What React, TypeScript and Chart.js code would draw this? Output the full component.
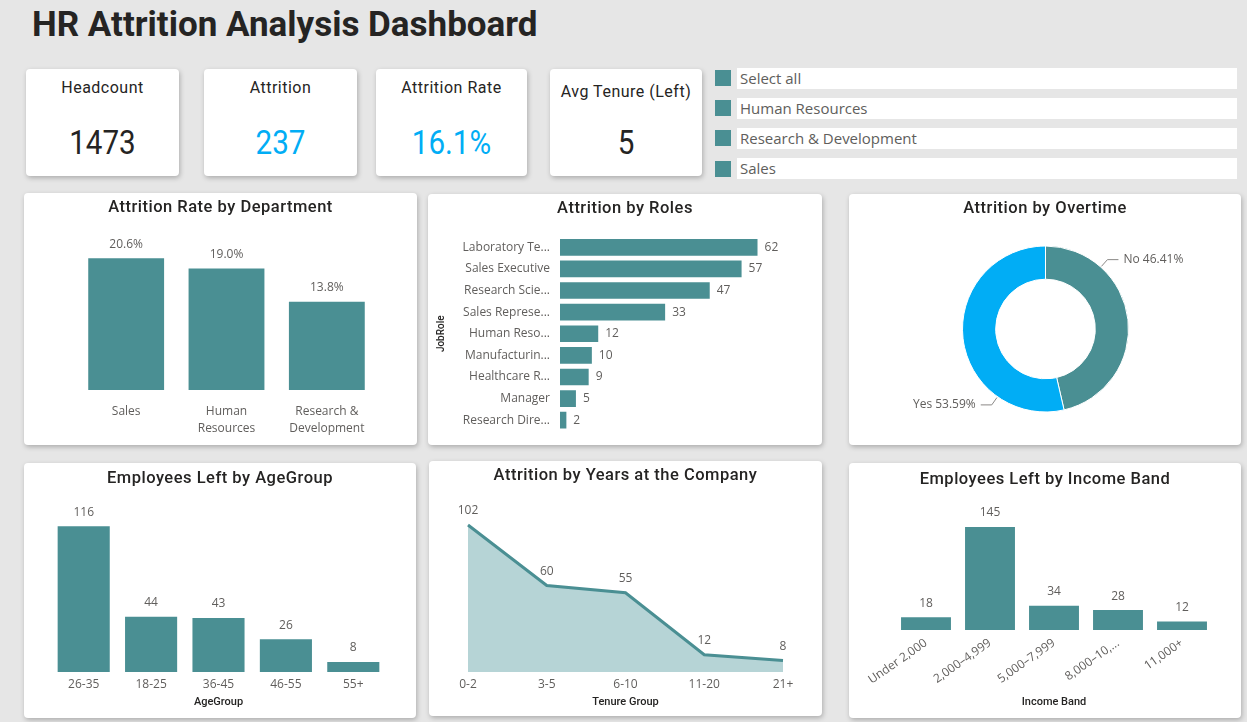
import React, { useEffect, useRef } from 'react';
import { Chart, registerables } from 'chart.js';

Chart.register(...registerables);

// ---------- palette & type ----------
const TEAL = '#4a8f93';
const TEAL_AREA = '#b6d4d6';
const SKY = '#01adf5';
const INK = '#252423';
const MUTED = '#605e5c';
const LEADER = '#8a8886';
const PAGE = '#e6e6e6';

const LABEL_FONT = '"Open Sans", "Noto Sans", sans-serif';
const HEAD_FONT = 'Roboto, "Noto Sans", sans-serif';

// ---------- data ----------
const kpiNames = ['Headcount', 'Attrition', 'Attrition Rate', 'Avg Tenure (Left)'];
const kpiValues = ['1473', '237', '16.1%', '5'];
const kpiHighlighted = [false, true, true, false];

const departmentOptions = ['Select all', 'Human Resources', 'Research & Development', 'Sales'];

const deptLabels = [['Sales'], ['Human', 'Resources'], ['Research &', 'Development']];
const deptRates = [20.6, 19.0, 13.8];

const roleNames = [
  'Laboratory Technician',
  'Sales Executive',
  'Research Scientist',
  'Sales Representative',
  'Human Resources',
  'Manufacturing Director',
  'Healthcare Representative',
  'Manager',
  'Research Director',
];
const roleLeavers = [62, 57, 47, 33, 12, 10, 9, 5, 2];

const overtimeLabels = ['No', 'Yes'];
const overtimeShares = [46.41, 53.59];

const ageGroups = ['26-35', '18-25', '36-45', '46-55', '55+'];
const ageLeavers = [116, 44, 43, 26, 8];

const tenureGroups = ['0-2', '3-5', '6-10', '11-20', '21+'];
const tenureLeavers = [102, 60, 55, 12, 8];

const incomeBands = ['Under 2,000', '2,000–4,999', '5,000–7,999', '8,000–10,999', '11,000+'];
const incomeLeavers = [18, 145, 34, 28, 12];

// ---------- helpers ----------
const measureCanvas = document.createElement('canvas');

// Shortens a label with "..." when it is wider than maxWidth; the shortened
// form has to fit within trimmedWidth.
function ellipsize(text: string, font: string, maxWidth: number, trimmedWidth = maxWidth): string {
  const ctx = measureCanvas.getContext('2d');
  if (!ctx) return text;
  ctx.font = font;
  if (ctx.measureText(text).width <= maxWidth) return text;
  let s = text;
  while (s.length > 1 && ctx.measureText(s + '...').width > trimmedWidth) s = s.slice(0, -1);
  return s.trimEnd() + '...';
}

const tickFont = { family: LABEL_FONT, size: 12, lineHeight: 1.4 };
const axisTitleFont = { family: HEAD_FONT, size: 11, weight: '500', lineHeight: 1.2 };

// Value labels drawn next to each bar / point of the first dataset
function valueLabels(format: (v: number) => string, place: 'above' | 'right', gap: number) {
  return {
    id: 'valueLabels',
    afterDatasetsDraw(chart: any) {
      const { ctx } = chart;
      const values = chart.data.datasets[0].data as number[];
      ctx.save();
      ctx.font = `12px ${LABEL_FONT}`;
      ctx.fillStyle = MUTED;
      ctx.textBaseline = 'middle';
      chart.getDatasetMeta(0).data.forEach((el: any, i: number) => {
        const { x, y } = el.getProps(['x', 'y'], true);
        const text = format(values[i]);
        if (place === 'right') {
          ctx.textAlign = 'left';
          ctx.fillText(text, x + gap, y);
        } else {
          ctx.textAlign = 'center';
          ctx.fillText(text, x, y - gap);
        }
      });
      ctx.restore();
    },
  };
}

// Outside labels with leader lines for the doughnut slices
const sliceLeaders = {
  id: 'sliceLeaders',
  afterDatasetsDraw(chart: any) {
    const { ctx } = chart;
    const labels = chart.data.labels as string[];
    const values = chart.data.datasets[0].data as number[];
    ctx.save();
    ctx.font = `12px ${LABEL_FONT}`;
    ctx.textBaseline = 'middle';
    chart.getDatasetMeta(0).data.forEach((arc: any, i: number) => {
      const { x, y, startAngle, endAngle, outerRadius } = arc.getProps(
        ['x', 'y', 'startAngle', 'endAngle', 'outerRadius'],
        true,
      );
      const a = startAngle + (endAngle - startAngle) * 0.25;
      const x0 = x + Math.cos(a) * (outerRadius + 1);
      const y0 = y + Math.sin(a) * (outerRadius + 1);
      const x1 = x + Math.cos(a) * (outerRadius + 10);
      const y1 = y + Math.sin(a) * (outerRadius + 10);
      const toRight = Math.cos(a) >= 0;
      const x2 = x1 + (toRight ? 11 : -11);
      ctx.strokeStyle = LEADER;
      ctx.lineWidth = 1;
      ctx.beginPath();
      ctx.moveTo(x0, y0);
      ctx.lineTo(x1, y1);
      ctx.lineTo(x2, y1);
      ctx.stroke();
      ctx.fillStyle = MUTED;
      ctx.textAlign = toRight ? 'left' : 'right';
      ctx.fillText(`${labels[i]} ${values[i].toFixed(2)}%`, x2 + (toRight ? 5 : -5), y1);
    });
    ctx.restore();
  },
};

function baseOptions(padding: any) {
  return {
    animation: false,
    responsive: false,
    events: [],
    layout: { padding },
    plugins: { legend: { display: false }, tooltip: { enabled: false } },
  };
}

function bottomCategoryAxis(height: number, tickPadding: number, title?: string, titlePad = 0, extraTicks: any = {}) {
  return {
    grid: { display: false, drawTicks: false },
    border: { display: false },
    ticks: {
      color: MUTED,
      font: tickFont,
      padding: tickPadding,
      autoSkip: false,
      maxRotation: 0,
      ...extraTicks,
    },
    title: title
      ? { display: true, text: title, color: INK, font: axisTitleFont, padding: { top: 0, bottom: titlePad } }
      : { display: false },
    afterFit: (scale: any) => {
      scale.height = height;
    },
  };
}

// ---------- chart builders ----------
const buildDepartment = () => ({
  type: 'bar',
  data: {
    labels: deptLabels,
    datasets: [{ data: deptRates, backgroundColor: TEAL, borderWidth: 0, categoryPercentage: 1, barPercentage: 0.756 }],
  },
  options: {
    ...baseOptions({ left: 52, right: 40, top: 37, bottom: 0 }),
    scales: {
      x: bottomCategoryAxis(55, 13),
      y: { display: false, min: 0, max: 25 },
    },
  },
  plugins: [valueLabels((v) => `${v.toFixed(1)}%`, 'above', 14)],
});

const buildRoles = () => ({
  type: 'bar',
  data: {
    labels: roleNames,
    datasets: [{ data: roleLeavers, backgroundColor: TEAL, borderWidth: 0, categoryPercentage: 1, barPercentage: 0.77 }],
  },
  options: {
    ...baseOptions({ left: 0, right: 39, top: 42.5, bottom: 14 }),
    indexAxis: 'y',
    scales: {
      x: { display: false, min: 0, max: 70 },
      y: {
        grid: { display: false, drawTicks: false },
        border: { display: false },
        ticks: {
          color: MUTED,
          font: tickFont,
          padding: 10,
          autoSkip: false,
          callback: (_v: any, i: number) => ellipsize(roleNames[i], `12px ${LABEL_FONT}`, 87.5),
        },
        title: {
          display: true,
          text: 'JobRole',
          color: INK,
          font: { family: HEAD_FONT, size: 10, weight: '500', lineHeight: 1.2 },
          padding: { top: 7, bottom: 0 },
        },
        afterFit: (scale: any) => {
          scale.width = 132;
          scale.paddingTop = 0;
          scale.paddingBottom = 0;
        },
      },
    },
  },
  plugins: [valueLabels((v) => `${v}`, 'right', 7)],
});

const buildOvertime = () => ({
  type: 'doughnut',
  data: {
    labels: overtimeLabels,
    datasets: [{ data: overtimeShares, backgroundColor: [TEAL, SKY], borderColor: '#ffffff', borderWidth: 1 }],
  },
  options: {
    ...baseOptions({ left: 113, right: 112, top: 51, bottom: 32 }),
    cutout: '60%',
  },
  plugins: [sliceLeaders],
});

const buildAge = () => ({
  type: 'bar',
  data: {
    labels: ageGroups,
    datasets: [{ data: ageLeavers, backgroundColor: TEAL, borderWidth: 0, categoryPercentage: 1, barPercentage: 0.773 }],
  },
  options: {
    ...baseOptions({ left: 26, right: 29, top: 33, bottom: 0 }),
    scales: {
      x: bottomCategoryAxis(46, 4.5, 'AgeGroup', 9.4),
      y: { display: false, min: 0, max: 140 },
    },
  },
  plugins: [valueLabels((v) => `${v}`, 'above', 14)],
});

const buildTenure = () => ({
  type: 'line',
  data: {
    labels: tenureGroups,
    datasets: [
      {
        data: tenureLeavers,
        borderColor: TEAL,
        borderWidth: 3,
        backgroundColor: TEAL_AREA,
        fill: 'origin',
        pointRadius: 0,
        tension: 0,
      },
    ],
  },
  options: {
    ...baseOptions({ left: 39, right: 39, top: 52.5, bottom: 0 }),
    scales: {
      x: { ...bottomCategoryAxis(44, 4.5, 'Tenure Group', 7.4), offset: false },
      y: { display: false, min: 0, max: 110 },
    },
  },
  plugins: [valueLabels((v) => `${v}`, 'above', 14)],
});

const buildIncome = () => ({
  type: 'bar',
  data: {
    labels: incomeBands,
    datasets: [{ data: incomeLeavers, backgroundColor: TEAL, borderWidth: 0, categoryPercentage: 1, barPercentage: 0.78 }],
  },
  options: {
    ...baseOptions({ left: 45, right: 27, top: 25, bottom: 0 }),
    scales: {
      x: bottomCategoryAxis(88, 5, 'Income Band', 9.4, {
        minRotation: 35,
        maxRotation: 35,
        callback: (_v: any, i: number) => ellipsize(incomeBands[i], `12px ${LABEL_FONT}`, 72, 68.5),
      }),
      y: { display: false, min: 0, max: 200 },
    },
  },
  plugins: [valueLabels((v) => `${v}`, 'above', 14)],
});

// ---------- components ----------
const cardStyle: React.CSSProperties = {
  position: 'absolute',
  background: '#ffffff',
  borderRadius: 4,
  boxShadow: '1px 2px 5px rgba(0,0,0,0.25)',
};

type PanelProps = {
  left: number;
  top: number;
  width: number;
  height: number;
  title: string;
  titleY: number;
  build: () => any;
};

function ChartPanel({ left, top, width, height, title, titleY, build }: PanelProps) {
  const ref = useRef<HTMLCanvasElement>(null);
  useEffect(() => {
    if (!ref.current) return;
    const chart = new Chart(ref.current, build());
    return () => chart.destroy();
  }, [build]);
  return (
    <div style={{ ...cardStyle, left, top, width, height }}>
      <canvas ref={ref} width={width} height={height} style={{ position: 'absolute', left: 0, top: 0 }} />
      <div
        style={{
          position: 'absolute',
          left: 0,
          width: '100%',
          top: titleY - 10,
          height: 20,
          lineHeight: '20px',
          textAlign: 'center',
          fontFamily: HEAD_FONT,
          fontSize: 16.5,
          fontWeight: 500,
          letterSpacing: 0.5,
          color: INK,
          whiteSpace: 'nowrap',
        }}
      >
        {title}
      </div>
    </div>
  );
}

const kpiBoxes = [
  { left: 26, width: 153, labelY: 88 },
  { left: 204, width: 153, labelY: 88 },
  { left: 376, width: 151, labelY: 88 },
  { left: 550, width: 152, labelY: 92 },
];

function KpiCard({ index }: { index: number }) {
  const box = kpiBoxes[index];
  return (
    <div style={{ ...cardStyle, left: box.left, top: 69, width: box.width, height: 107 }}>
      <div
        style={{
          position: 'absolute',
          left: 0,
          width: '100%',
          top: box.labelY - 69 - 10,
          lineHeight: '20px',
          textAlign: 'center',
          fontFamily: HEAD_FONT,
          fontSize: 16,
          letterSpacing: 0.5,
          color: INK,
          whiteSpace: 'nowrap',
        }}
      >
        {kpiNames[index]}
      </div>
      <div
        style={{
          position: 'absolute',
          left: 0,
          width: '100%',
          top: 142 - 69 - 20,
          lineHeight: '40px',
          textAlign: 'center',
          fontFamily: HEAD_FONT,
          fontSize: 34,
          color: kpiHighlighted[index] ? SKY : INK,
          transform: 'scaleX(0.87)',
        }}
      >
        {kpiValues[index]}
      </div>
    </div>
  );
}

function DepartmentSlicer() {
  return (
    <>
      {departmentOptions.map((name, i) => {
        const top = 67.5 + i * 30.2;
        return (
          <React.Fragment key={name}>
            <div style={{ position: 'absolute', left: 715, top: top + 2.5, width: 16, height: 16, background: TEAL }} />
            <div
              style={{
                position: 'absolute',
                left: 737,
                top,
                width: 500,
                height: 21,
                background: '#ffffff',
                fontFamily: LABEL_FONT,
                fontWeight: 400,
                fontSize: 15,
                lineHeight: '21px',
                color: MUTED,
                paddingLeft: 3,
                boxSizing: 'border-box',
                whiteSpace: 'nowrap',
              }}
            >
              {name}
            </div>
          </React.Fragment>
        );
      })}
    </>
  );
}

export default function App() {
  return (
    <div
      style={{
        position: 'fixed',
        left: 0,
        top: 0,
        width: 1247,
        height: 722,
        background: PAGE,
        overflow: 'hidden',
      }}
    >
      <div
        style={{
          position: 'absolute',
          left: 32,
          top: 6.5,
          fontFamily: HEAD_FONT,
          fontWeight: 700,
          fontSize: 35,
          lineHeight: '35px',
          color: INK,
          whiteSpace: 'nowrap',
        }}
      >
        HR Attrition Analysis Dashboard
      </div>

      {kpiNames.map((_, i) => (
        <KpiCard key={i} index={i} />
      ))}

      <DepartmentSlicer />

      <ChartPanel left={24} top={193} width={393} height={252} title="Attrition Rate by Department" titleY={14} build={buildDepartment} />
      <ChartPanel left={428} top={194} width={394} height={251} title="Attrition by Roles" titleY={14} build={buildRoles} />
      <ChartPanel left={849} top={194} width={392} height={251} title="Attrition by Overtime" titleY={14} build={buildOvertime} />
      <ChartPanel left={24} top={463} width={392} height={255} title="Employees Left by AgeGroup" titleY={15} build={buildAge} />
      <ChartPanel left={429} top={461} width={393} height={255} title="Attrition by Years at the Company" titleY={14} build={buildTenure} />
      <ChartPanel left={849} top={463} width={392} height={255} title="Employees Left by Income Band" titleY={16} build={buildIncome} />
    </div>
  );
}
